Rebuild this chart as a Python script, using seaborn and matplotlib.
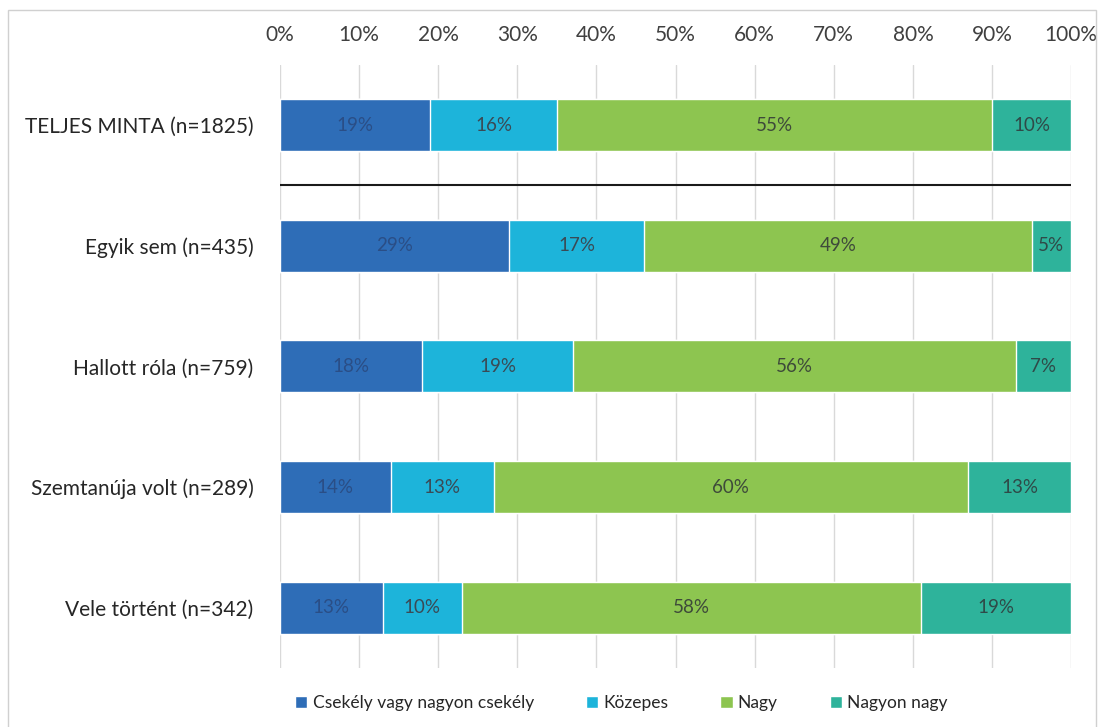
import pandas as pd
import numpy as np
import matplotlib
matplotlib.use('Agg')
import matplotlib.pyplot as plt
from matplotlib.patches import Patch, Rectangle
import seaborn as sns

groups = ['TELJES MINTA (n=1825)', 'Egyik sem (n=435)', 'Hallott róla (n=759)',
          'Szemtanúja volt (n=289)', 'Vele történt (n=342)']
series = ['Csekély vagy nagyon csekély', 'Közepes', 'Nagy', 'Nagyon nagy']
csekely = [19, 29, 18, 14, 13]
kozepes = [16, 17, 19, 13, 10]
nagy = [55, 49, 56, 60, 58]
nagyon_nagy = [10, 5, 7, 13, 19]
colors = ['#2E6DB7', '#1DB4DA', '#8DC550', '#2EB39B']
text_colors = ['#2A4E86', '#3A4A55', '#3E4A3A', '#2F4A48']

sns.set_style('white')
plt.rcParams['font.family'] = ['Lato', 'DejaVu Sans']

df = pd.DataFrame({'group': groups, series[0]: csekely, series[1]: kozepes,
                   series[2]: nagy, series[3]: nagyon_nagy})
cum = df[series].cumsum(axis=1)

fig = plt.figure(figsize=(11.02, 7.27), dpi=100)
ax = fig.add_axes([0.254, 0.081, 0.718, 0.830])

# stacked bars: draw cumulative totals from the longest down
for i in range(len(series) - 1, -1, -1):
    sns.barplot(x=cum[series[i]], y=df['group'], color=colors[i],
                width=0.43, saturation=1, ax=ax, zorder=2)

for i, s in enumerate(series):
    for j in range(len(groups)):
        v = df[s][j]
        ax.text(cum[s][j] - v / 2, j, f'{v}%', ha='center', va='center',
                fontsize=13.5, color=text_colors[i], zorder=3)

ax.set_xlim(0, 100)
ax.set_ylim(4.5, -0.5)
ax.set_xticks(np.arange(0, 101, 10))
ax.set_xticklabels([f'{t}%' for t in range(0, 101, 10)])
ax.xaxis.tick_top()
ax.tick_params(axis='x', length=0, pad=14, labelsize=15, labelcolor='#404040')
ax.tick_params(axis='y', length=0, pad=19, labelsize=15, labelcolor='#262626')
ax.set_xlabel('')
ax.set_ylabel('')
ax.grid(axis='x', color='#d9d9d9', lw=1, zorder=0)
ax.set_axisbelow(True)
for sp in ax.spines.values():
    sp.set_visible(False)

ax.axhline(0.5, color='#1a1a1a', lw=1.5, zorder=3)

handles = [Patch(facecolor=c, label=s) for c, s in zip(colors, series)]
fig.legend(handles=handles, loc='center', bbox_to_anchor=(0.564, 0.033), ncol=4,
           frameon=False, fontsize=12.5, handlelength=0.7, handleheight=0.7,
           handletextpad=0.3, columnspacing=3.0, labelcolor='#262626')

fig.patches.append(Rectangle((0.007, -0.01), 0.988, 0.996, transform=fig.transFigure,
                             fill=False, edgecolor='#d0d0d0', lw=1))

fig.savefig('out.png', dpi=100)
